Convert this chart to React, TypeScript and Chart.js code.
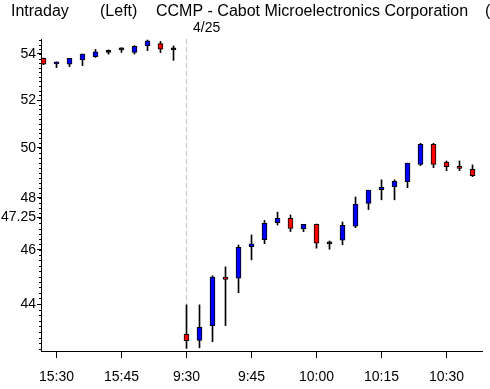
import React, { useEffect, useRef } from "react";
import { Chart, registerables } from "chart.js";

Chart.register(...registerables);

// 3-minute candles: previous session close, then the 4/25 session
const times = [
  "15:27", "15:30", "15:33", "15:36", "15:39", "15:42", "15:45", "15:48", "15:51", "15:54", "15:57",
  "9:30", "9:33", "9:36", "9:39", "9:42", "9:45", "9:48", "9:51", "9:54", "9:57", "10:00",
  "10:03", "10:06", "10:09", "10:12", "10:15", "10:18", "10:21", "10:24", "10:27", "10:30", "10:33", "10:36",
];
const opens = [
  53.81, 53.56, 53.55, 53.74, 53.88, 54.07, 54.18, 54.07, 54.37, 54.46, 54.18,
  42.92, 42.71, 43.23, 44.98, 44.94, 46.12, 46.38, 47.03, 47.2, 46.79, 46.97,
  46.22, 46.36, 46.9, 47.78, 48.32, 48.44, 48.64, 49.33, 50.15, 49.42, 49.25, 49.13,
];
const highs = [
  53.82, 53.65, 53.81, 54.0, 54.2, 54.18, 54.28, 54.37, 54.62, 54.56, 54.36,
  43.97, 43.97, 45.03, 45.36, 46.18, 46.56, 47.12, 47.44, 47.33, 46.97, 46.98,
  46.33, 47.06, 48.03, 48.3, 48.71, 48.71, 49.38, 50.19, 50.19, 49.47, 49.47, 49.31,
];
const lows = [
  53.53, 53.4, 53.44, 53.49, 53.85, 53.99, 54.07, 54.0, 54.15, 54.06, 53.72,
  42.43, 42.45, 42.66, 43.23, 44.41, 45.62, 46.23, 46.94, 46.69, 46.69, 46.06,
  46.02, 46.19, 46.84, 47.54, 47.92, 47.92, 48.4, 49.28, 49.2, 49.08, 49.08, 48.84,
];
const closes = [
  53.55, 53.65, 53.81, 54.0, 54.1, 54.07, 54.18, 54.34, 54.58, 54.21, 54.18,
  42.7, 43.17, 44.98, 44.9, 46.09, 46.22, 47.01, 47.2, 46.81, 46.97, 46.25,
  46.22, 46.93, 47.75, 48.3, 48.41, 48.65, 49.38, 50.15, 49.33, 49.24, 49.17, 48.88,
];
const xTickLabels = ["15:30", "15:45", "9:30", "9:45", "10:00", "10:15", "10:30"];
const yTickValues = [44, 46, 47.25, 48, 50, 52, 54];
const sessionStartLabel = "9:30";
const sessionDate = "4/25";
const titleParts = ["Intraday", "(Left)", "CCMP - Cabot Microelectronics Corporation", "(CCMP)"];

const SANS = '"Liberation Sans", Arial, sans-serif';

export default function App() {
  const ref = useRef<HTMLCanvasElement>(null);

  useEffect(() => {
    const canvas = ref.current;
    if (!canvas) return;
    const idx = times.map((_, i) => i);
    const bodyColors = opens.map((o, i) =>
      closes[i] > o ? "#0000ff" : closes[i] < o ? "#ff0000" : "#000000"
    );
    const sessionStart = times.indexOf(sessionStartLabel);
    const tickIdx = xTickLabels.map((l) => times.indexOf(l));

    const overlay = {
      id: "overlay",
      beforeDatasetsDraw(chart: any) {
        const { ctx, chartArea, scales } = chart;
        const x = Math.floor(scales.x.getPixelForValue(sessionStart)) + 0.5;
        ctx.save();
        ctx.strokeStyle = "#c4c4c4";
        ctx.lineWidth = 1;
        ctx.setLineDash([5, 3]);
        ctx.beginPath();
        ctx.moveTo(x, chartArea.top);
        ctx.lineTo(x, chartArea.bottom);
        ctx.stroke();
        ctx.restore();
      },
      afterDraw(chart: any) {
        const { ctx, chartArea, scales } = chart;
        const y = scales.y;
        ctx.save();
        // minor ticks on the price axis
        ctx.strokeStyle = "#000";
        ctx.lineWidth = 1;
        ctx.beginPath();
        for (let k = Math.ceil(y.min * 5); k <= Math.floor(y.max * 5); k++) {
          const v = k / 5;
          const py = Math.round(y.getPixelForValue(v)) + 0.5;
          ctx.moveTo(chartArea.left - 2, py);
          ctx.lineTo(chartArea.left, py);
        }
        ctx.stroke();
        // header texts
        ctx.fillStyle = "#000";
        ctx.textBaseline = "alphabetic";
        ctx.textAlign = "left";
        ctx.font = `16px ${SANS}`;
        ctx.fillText(titleParts[0], 11, 16);
        ctx.fillText(titleParts[1], 100, 16);
        ctx.fillText(titleParts[2], 156, 16);
        ctx.fillText(titleParts[3], 485, 16);
        ctx.font = `14px ${SANS}`;
        const sx = scales.x.getPixelForValue(sessionStart);
        ctx.fillText(sessionDate, sx + 6.5, 32);
        ctx.restore();
      },
    };

    const chart = new Chart(canvas, {
      type: "bar",
      data: {
        datasets: [
          {
            label: "body",
            data: idx.map((i) => ({ x: i, y: [opens[i], closes[i]] })) as any,
            backgroundColor: bodyColors,
            borderColor: "#000",
            borderWidth: 1,
            borderSkipped: false,
            barThickness: 5,
            minBarLength: 2,
            grouped: false,
          } as any,
          {
            label: "wick",
            data: idx.map((i) => ({ x: i, y: [lows[i], highs[i]] })) as any,
            backgroundColor: "#000",
            borderWidth: 0,
            barThickness: 1,
            grouped: false,
          } as any,
        ],
      },
      options: {
        animation: false,
        responsive: false,
        devicePixelRatio: 1,
        layout: { padding: { top: 39, right: 8, left: 0, bottom: 0 } },
        plugins: {
          legend: { display: false },
          tooltip: { enabled: false },
          title: { display: false },
        },
        scales: {
          x: {
            type: "linear",
            min: -0.1923,
            max: 33.73,
            offset: false,
            afterFit(s: any) {
              s.height = 38;
            },
            afterBuildTicks(s: any) {
              s.ticks = tickIdx.map((v) => ({ value: v }));
            },
            ticks: {
              callback: (v: any) => {
                const k = tickIdx.indexOf(Number(v));
                return k >= 0 ? xTickLabels[k] : "";
              },
              font: { family: SANS, size: 14 },
              color: "#000",
              padding: 11,
              maxRotation: 0,
              autoSkip: false,
            },
            grid: {
              offset: false,
              drawOnChartArea: false,
              drawTicks: true,
              tickLength: 7,
              color: "#000",
              tickColor: "#000",
            },
            border: { display: true, color: "#000", width: 1 },
          } as any,
          y: {
            type: "logarithmic",
            position: "left",
            min: 42.339,
            max: 54.667,
            beginAtZero: false,
            afterFit(s: any) {
              s.width = 41;
            },
            afterBuildTicks(s: any) {
              s.ticks = yTickValues.map((v) => ({ value: v }));
            },
            ticks: {
              callback: (v: any) => String(v),
              font: { family: SANS, size: 14 },
              color: "#000",
              padding: 1,
              autoSkip: false,
            },
            grid: {
              drawOnChartArea: false,
              drawTicks: true,
              tickLength: 4,
              color: "#000",
              tickColor: "#000",
            },
            border: { display: true, color: "#000", width: 1 },
          } as any,
        },
      },
      plugins: [overlay],
    });

    return () => chart.destroy();
  }, []);

  return (
    <div style={{ position: "fixed", left: 0, top: 0, width: 490, height: 389, background: "#fff" }}>
      <canvas ref={ref} width={490} height={389} style={{ display: "block" }} />
    </div>
  );
}
